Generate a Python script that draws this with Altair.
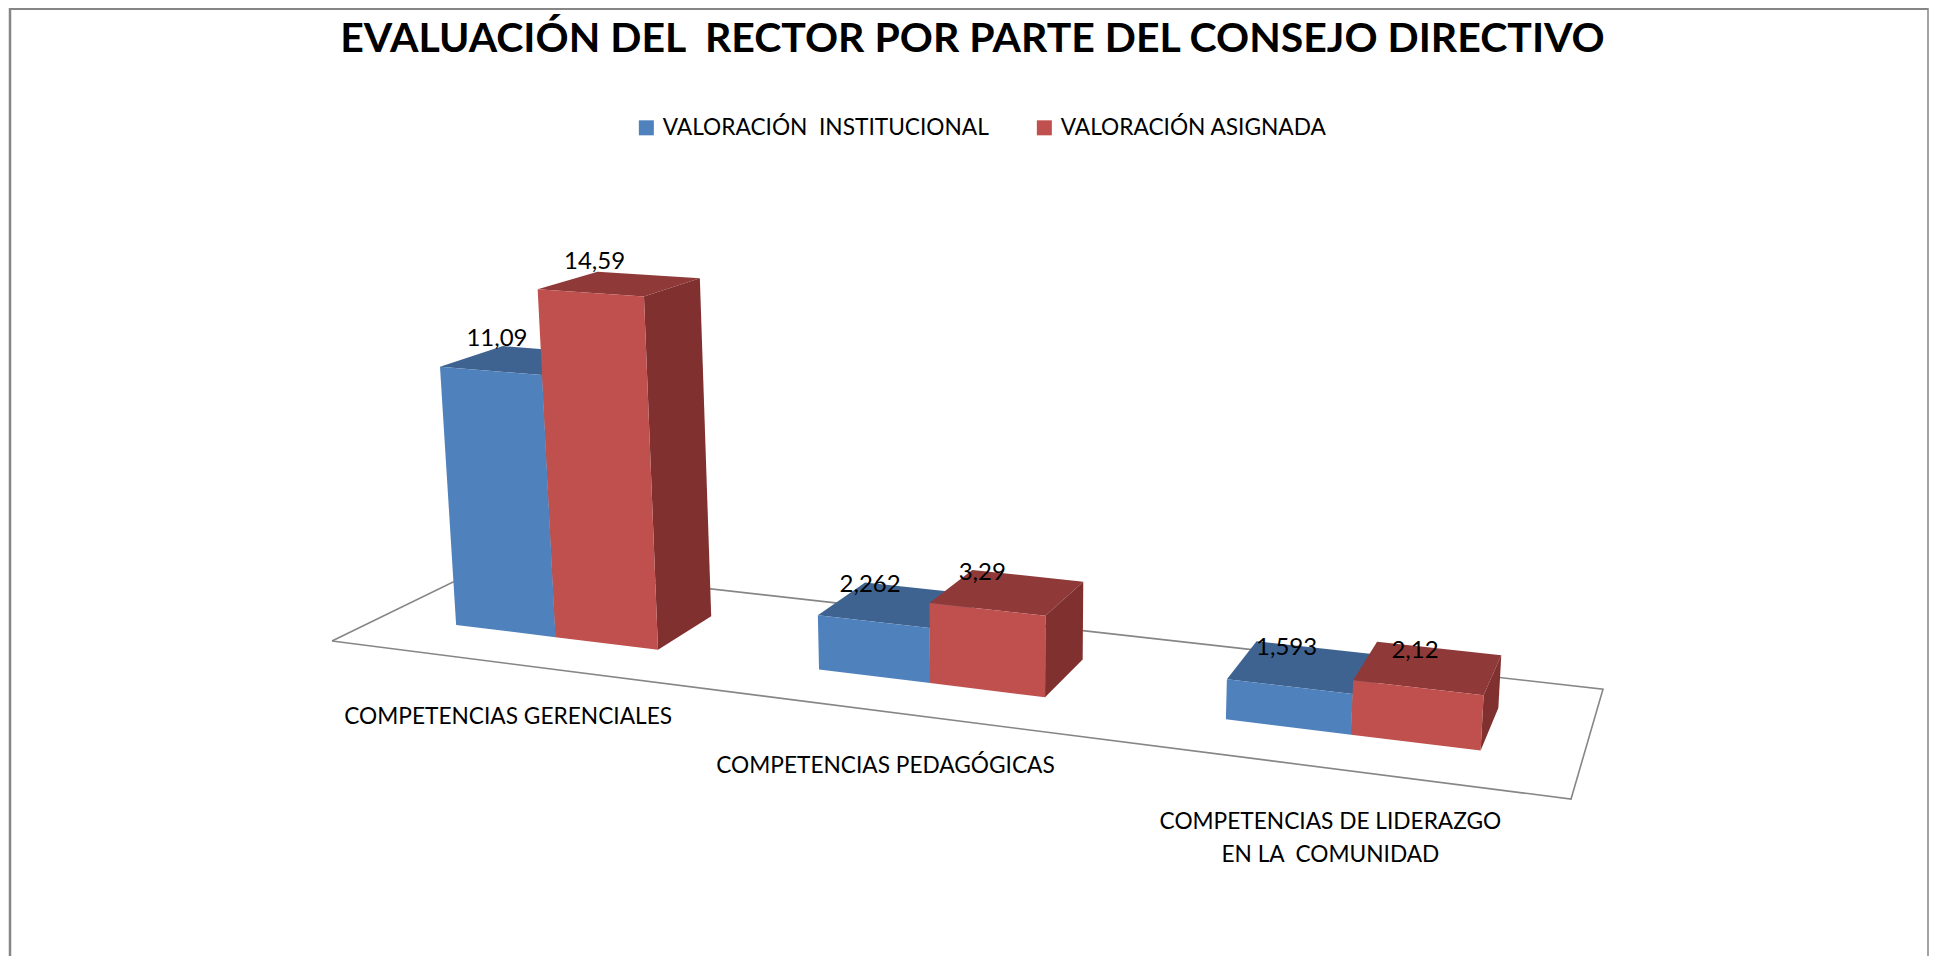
import altair as alt
import pandas as pd

# ---- chart values ----
NB = "\u00a0"
TITLE = f"EVALUACIÓN DEL {NB}RECTOR POR PARTE DEL CONSEJO DIRECTIVO"
SERIES = [f"VALORACIÓN {NB}INSTITUCIONAL", "VALORACIÓN ASIGNADA"]
CATEGORIES = [
    ["COMPETENCIAS GERENCIALES"],
    ["COMPETENCIAS PEDAGÓGICAS"],
    ["COMPETENCIAS DE LIDERAZGO", f"EN LA {NB}COMUNIDAD"],
]
INSTITUCIONAL = [11.09, 2.262, 1.593]
ASIGNADA = [14.59, 3.29, 2.12]
VALUE_TEXT = [["11,09", "14,59"], ["2,262", "3,29"], ["1,593", "2,12"]]

# ---- 3D camera: (s along categories, t in depth, value up) -> page pixels ----
A, B, C = 978.4, 215.8, 332.0
D, E, F = 25.5, -10.4, 641.0
G, H = -0.1659, 0.1180
UP_X, UP_Y, UP_K = 1010.0, 9500.0, 0.00261
BAR_HALF = 0.0475
T_FRONT, T_BACK = 0.30, 0.70


def project(s, t, v=0.0):
    q = UP_K * v
    w = G * s + H * t + 1 - q
    return ((A * s + B * t + C - q * UP_X) / w, (D * s + E * t + F - q * UP_Y) / w)


# small placement nudges of the text relative to the projected anchors
VALUE_NUDGE = [[(-6, -7), (-3, -10)], [(5, 3), (10, 3)], [(30, 7), (38, 9)]]
CATEGORY_NUDGE = [(-1, 53), (-10, 53), (-1, 54)]
LINE_STEP = 33

SHADE_NAMES = [SERIES[0], "top0", "side0", SERIES[1], "top1", "side1"]
SHADE_COLORS = ["#4F81BD", "#3E6390", "#3A5F8C", "#C0504D", "#8F3A39", "#7F302F"]

faces, value_rows, cat_rows = [], [], []
k = 0
for i in range(3):
    centre = (i + 0.5) / 3
    for j, val in enumerate([INSTITUCIONAL[i], ASIGNADA[i]]):
        s0 = centre + (j - 1) * 2 * BAR_HALF
        s1 = s0 + 2 * BAR_HALF
        top = [(s0, T_FRONT, val), (s0, T_BACK, val), (s1, T_BACK, val), (s1, T_FRONT, val)]
        side = [(s1, T_FRONT, 0), (s1, T_BACK, 0), (s1, T_BACK, val), (s1, T_FRONT, val)]
        front = [(s0, T_FRONT, 0), (s0, T_FRONT, val), (s1, T_FRONT, val), (s1, T_FRONT, 0)]
        for shade, pts in [(SHADE_NAMES[3 * j + 1], top), (SHADE_NAMES[3 * j + 2], side), (SHADE_NAMES[3 * j], front)]:
            for n, p in enumerate(pts):
                x, y = project(*p)
                faces.append({"face": k, "n": n, "x": x, "y": y, "shade": shade})
            k += 1
        ax, ay = project(s0, T_BACK, val)
        nx, ny = VALUE_NUDGE[i][j]
        value_rows.append({"x": ax + nx, "y": ay + ny, "label": VALUE_TEXT[i][j]})
    fx, fy = project(centre, 0.0)
    nx, ny = CATEGORY_NUDGE[i]
    for m, line in enumerate(CATEGORIES[i]):
        cat_rows.append({"x": fx + nx, "y": fy + ny + m * LINE_STEP, "label": line})

floor_rows = []
for n, (s, t) in enumerate([(0, 0), (1, 0), (1, 1), (0, 1), (0, 0)]):
    x, y = project(s, t)
    floor_rows.append({"n": n, "x": x, "y": y})

# ---- page-pixel scales ----
W, HT = 1921, 948
xs = alt.Scale(domain=[8, 8 + W], range=[0, W])
ys = alt.Scale(domain=[8, 8 + HT], range=[0, HT])
X = alt.X("x:Q", scale=xs, axis=None)
Y = alt.Y("y:Q", scale=ys, axis=None)
FONT = "Lato"
GREY = "#868686"

floor = (
    alt.Chart(pd.DataFrame(floor_rows))
    .mark_line(color=GREY, strokeWidth=1.6, fill="white")
    .encode(x=X, y=Y, order="n:Q")
)

bars = (
    alt.Chart(pd.DataFrame(faces))
    .mark_line(strokeWidth=0)
    .encode(
        x=X,
        y=Y,
        order="n:Q",
        detail="face:N",
        fill=alt.Fill(
            "shade:N",
            scale=alt.Scale(domain=SHADE_NAMES, range=SHADE_COLORS),
            legend=alt.Legend(
                values=SERIES,
                title=None,
                orient="none",
                legendX=627,
                legendY=108,
                direction="horizontal",
                symbolType="square",
                symbolSize=225,
                symbolStrokeWidth=0,
                symbolOpacity=1,
                labelFont=FONT,
                labelFontSize=22.7,
                labelColor="black",
                labelLimit=500,
                labelOffset=5,
                columnPadding=44,
                padding=0,
            ),
        ),
    )
)

values = (
    alt.Chart(pd.DataFrame(value_rows))
    .mark_text(font=FONT, fontSize=24, color="black", align="center", baseline="middle")
    .encode(x=X, y=Y, text="label:N")
)
cats = (
    alt.Chart(pd.DataFrame(cat_rows))
    .mark_text(font=FONT, fontSize=22.7, color="black", align="center", baseline="middle")
    .encode(x=X, y=Y, text="label:N")
)

frame_left = alt.Chart(pd.DataFrame({"a": [0]})).mark_rule(color=GREY, strokeWidth=2.5).encode(
    x=alt.value(2), y=alt.value(0), y2=alt.value(HT))
frame_right = alt.Chart(pd.DataFrame({"a": [0]})).mark_rule(color=GREY, strokeWidth=1.5).encode(
    x=alt.value(W - 1), y=alt.value(0), y2=alt.value(HT))
frame_top = alt.Chart(pd.DataFrame({"a": [0]})).mark_rule(color=GREY, strokeWidth=2).encode(
    y=alt.value(1), x=alt.value(2), x2=alt.value(W - 1))

chart = (
    alt.layer(frame_left, frame_right, frame_top, floor, bars, values, cats)
    .properties(
        width=W,
        height=HT,
        padding=0,
        autosize=alt.AutoSizeParams(type="none"),
        background="white",
        title=alt.TitleParams(
            TITLE, font=FONT, fontSize=41, fontWeight="bold", color="black",
            anchor="middle", offset=-54, dx=4,
        ),
    )
    .configure_view(stroke=None)
)

chart.save("out.html", embed_options={"renderer": "svg", "actions": False})
